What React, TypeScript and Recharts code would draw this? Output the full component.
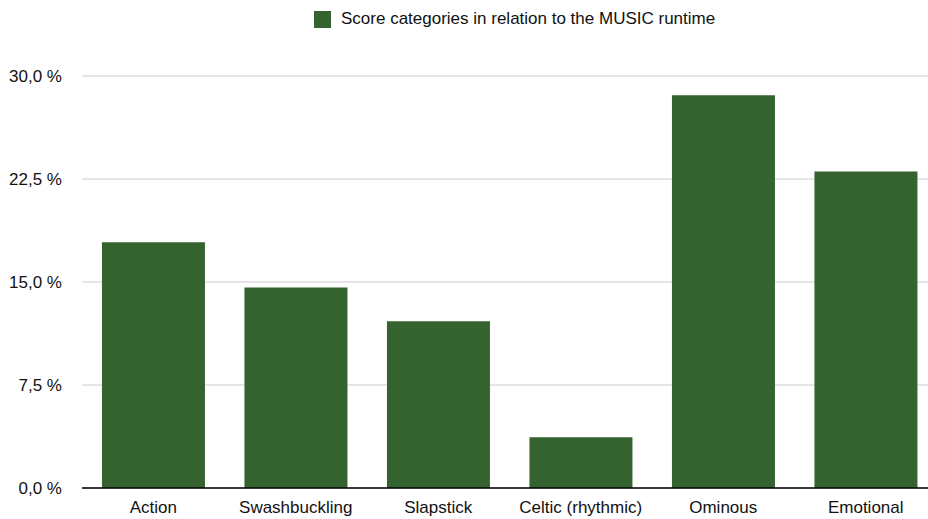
import React from 'react';
import { BarChart, Bar, XAxis, YAxis, CartesianGrid, Legend } from 'recharts';

const categories = ['Action', 'Swashbuckling', 'Slapstick', 'Celtic (rhythmic)', 'Ominous', 'Emotional'];
const shares = [17.9, 14.6, 12.15, 3.7, 28.6, 23.05];
const yTicks = [0, 7.5, 15, 22.5, 30];

const SERIES_NAME = 'Score categories in relation to the MUSIC runtime';
const BAR_COLOR = '#34632f';
const FONT = '"Liberation Sans", Arial, Helvetica, sans-serif';

const data = categories.map((name, i) => ({ name, value: shares[i] }));

const formatPercent = (v: number) => `${v.toFixed(1).replace('.', ',')} %`;

function LegendContent() {
  return (
    <div style={{ display: 'flex', alignItems: 'center', fontFamily: FONT, fontSize: 17, color: '#111', whiteSpace: 'nowrap' }}>
      <span style={{ display: 'inline-block', width: 17, height: 17, background: BAR_COLOR, marginRight: 10 }} />
      <span>{SERIES_NAME}</span>
    </div>
  );
}

export default function App() {
  return (
    <div style={{ position: 'absolute', left: 0, top: 0, width: 928, height: 519, overflow: 'hidden', background: '#fff' }}>
      <BarChart
        width={937}
        height={519}
        data={data}
        margin={{ top: 76, right: 0, left: 0, bottom: 0 }}
        barCategoryGap="14%"
      >
        <CartesianGrid vertical={false} stroke="#cccccc" />
        <XAxis
          dataKey="name"
          height={31}
          tickLine={false}
          axisLine={{ stroke: '#000', strokeWidth: 1.5 }}
          tickMargin={7}
          tick={{ fill: '#111', fontSize: 17, fontFamily: FONT }}
          interval={0}
        />
        <YAxis
          width={82}
          domain={[0, 30]}
          ticks={yTicks}
          axisLine={false}
          tickLine={false}
          tickSize={0}
          tickMargin={20}
          tickFormatter={formatPercent}
          tick={{ fill: '#111', fontSize: 17, fontFamily: FONT }}
        />
        <Legend
          layout="horizontal"
          verticalAlign="middle"
          content={LegendContent}
          wrapperStyle={{ top: 9, left: 314, width: 'auto' }}
        />
        <Bar dataKey="value" name={SERIES_NAME} fill={BAR_COLOR} isAnimationActive={false} />
      </BarChart>
    </div>
  );
}
